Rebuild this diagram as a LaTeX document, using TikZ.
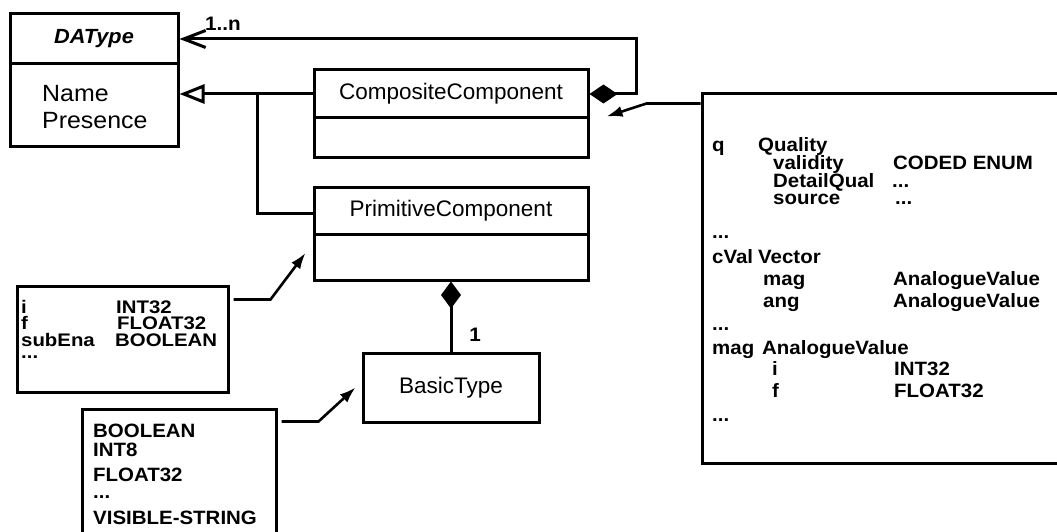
\documentclass[tikz,border=0pt]{standalone}
\usepackage{fontspec}
\setmainfont{Liberation Sans}
\newfontfamily\widesf[FakeStretch=1.06]{Liberation Sans}
\newfontfamily\widersf[FakeStretch=1.12]{Liberation Sans}
\usetikzlibrary{arrows.meta,calc}
\begin{document}
\begin{tikzpicture}[x=1pt,y=-1pt,
  cls/.style={draw, line width=3pt, inner sep=0pt, font=\fontsize{22.5}{27}\selectfont},
  notebox/.style={draw, line width=3pt, inner sep=0pt},
  nt/.style={font=\widesf\bfseries\fontsize{19.3}{23}\selectfont, inner sep=0pt, anchor=base west},
  ntsmall/.style={font=\widersf\bfseries\fontsize{18.2}{22}\selectfont, inner sep=0pt, anchor=base west},
  attr/.style={font=\widesf\fontsize{23.5}{28}\selectfont, inner sep=0pt, anchor=base west},
  lbl/.style={font=\widesf\bfseries\fontsize{19.5}{23}\selectfont, inner sep=0pt},
  conn/.style={line width=3pt},
  notearr/.style={line width=2.6pt, -{Latex[length=16pt,width=11pt]}}]
\useasboundingbox (0,0) rectangle (1057,532);
% DAType
\node[cls, minimum width=168pt, minimum height=50pt] (dtitle) at (94,39) {};
\node[cls, minimum width=168pt, minimum height=82pt] (dbody) at (94,105) {};
\node[font=\widesf\bfseries\itshape\fontsize{20.5}{24}\selectfont, inner sep=0pt] (dname) at (94,39) {DAType};
\node[attr] (aname) at (42,101.5) {Name};
\node[attr] (apres) at (42,128.5) {Presence};
% CompositeComponent
\node[cls, minimum width=274pt, minimum height=48pt] (ctitle) at (451,94) {CompositeComponent};
\node[cls, minimum width=274pt, minimum height=39pt] (cbody) at (451,137.5) {};
% PrimitiveComponent
\node[cls, minimum width=274pt, minimum height=47pt] (ptitle) at (451,210.5) {PrimitiveComponent};
\node[cls, minimum width=274pt, minimum height=46pt] (pbody) at (451,257) {};
% BasicType
\node[cls, minimum width=176pt, minimum height=69pt] (basic) at (451,387.5) {BasicType};
% note boxes
\node[notebox, minimum width=211pt, minimum height=106pt] (n1) at (122.5,339) {};
\node[notebox, minimum width=194pt, minimum height=136pt] (n2) at (179,477) {};
\node[notebox, minimum width=368pt, minimum height=369pt] (n3) at (886,278.5) {};
% connectors
\draw[conn, {Diamond[length=28pt,width=19pt]}-{Straight Barb[length=22pt,width=17pt,line width=3pt]}]
  (ctitle.east) -- ++(47,0) |- (dtitle.east);
\node[lbl] (mult) at (223,24) {1..n};
\draw[conn, -{Triangle[open,length=25pt,width=19pt,line width=3pt]}]
  (ctitle.west) -- (dbody.east |- ctitle.west);
\coordinate (gj) at (257,94);
\draw[conn] (ptitle.west |- 0,213) -| (gj);
\draw[conn, {Diamond[length=27pt,width=20pt]}-] (pbody.south) -- (basic.north);
\node[lbl] (one) at (475,335) {1};
\coordinate (tip3) at ($(cbody.north east)+(17,0)$);
\draw[notearr] ($(n3.north west)+(0,11)$) -- ++(-54,0) -- (tip3);
\coordinate (tip1) at ($(pbody.west)+(-7,-4)$);
\draw[notearr] ($(n1.north east)+(4,15)$) -- ++(37,0) -- (tip1);
\coordinate (tip2) at ($(basic.west)+(-6,0)$);
\draw[notearr] ($(n2.north east)+(4,14)$) -- ++(37,0) -- (tip2);
% note 1 text
\node[ntsmall] (a1) at (21,313) {i};       \node[ntsmall] (a2) at (116,313) {INT32};
\node[ntsmall] (a3) at (21,329.5) {f};       \node[ntsmall] (a4) at (117,329.5) {FLOAT32};
\node[ntsmall] (a5) at (21,346) {subEna};  \node[ntsmall] (a6) at (115,346) {BOOLEAN};
\node[ntsmall] (a7) at (21,358.5) {...};
% note 2 text
\node[nt] (b1) at (93,437.5) {BOOLEAN};
\node[nt] (b2) at (93,456.5) {INT8};
\node[nt] (b3) at (93,481) {FLOAT32};
\node[nt] (b4) at (93,498) {...};
\node[nt] (b5) at (93,524) {VISIBLE-STRING};
% note 3 text
\node[nt] (c1) at (712,151.5) {q};          \node[nt] (c2) at (758,151.5) {Quality};
\node[nt] (c3) at (773,169.5) {validity};   \node[nt] (c4) at (893,169.5) {CODED ENUM};
\node[nt] (c5) at (773,187.5) {DetailQual}; \node[nt] (c6) at (892,187.5) {...};
\node[nt] (c7) at (773,204.5) {source};     \node[nt] (c8) at (895,204.5) {...};
\node[nt] (c9) at (712,238) {...};
\node[nt] (c10) at (712,263.5) {cVal};      \node[nt] (c11) at (758,263.5) {Vector};
\node[nt] (c12) at (763,285.5) {mag};       \node[nt] (c13) at (893,285.5) {AnalogueValue};
\node[nt] (c14) at (763,307.5) {ang};       \node[nt] (c15) at (893,307.5) {AnalogueValue};
\node[nt] (c16) at (712,330) {...};
\node[nt] (c17) at (712,354.5) {mag};       \node[nt] (c18) at (762,354.5) {AnalogueValue};
\node[nt] (c19) at (772,375.5) {i};         \node[nt] (c20) at (894,375.5) {INT32};
\node[nt] (c21) at (772,397.5) {f};         \node[nt] (c22) at (894,397.5) {FLOAT32};
\node[nt] (c23) at (712,421) {...};
\end{tikzpicture}
\end{document}
